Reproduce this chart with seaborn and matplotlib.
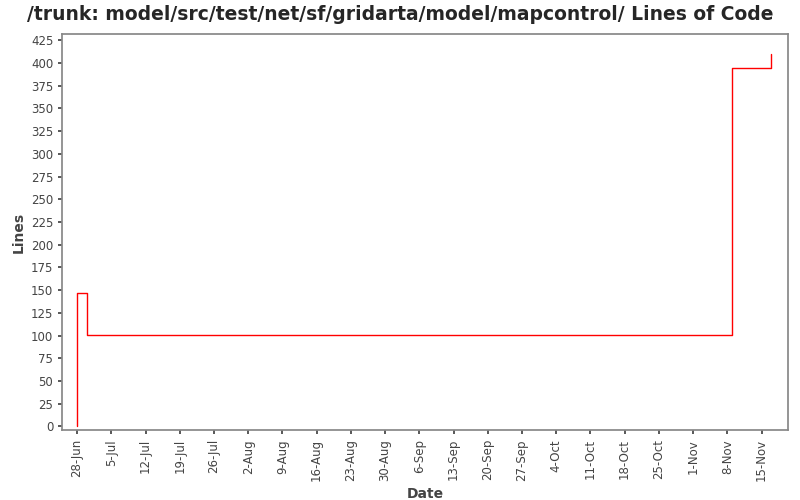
import matplotlib
matplotlib.use("Agg")
import matplotlib.pyplot as plt
import matplotlib.dates as mdates
import seaborn as sns
import pandas as pd

dates = pd.to_datetime(["2010-06-28", "2010-06-28", "2010-06-30", "2010-11-09",
                        "2010-11-17", "2010-11-17"])
lines = [0, 147, 101, 395, 395, 410]

sns.set_theme(style="white")
plt.rcParams['font.family'] = ['DejaVu Sans']

fig = plt.figure(figsize=(8, 5), dpi=100)
ax = fig.add_axes([0.078, 0.14, 0.907, 0.792])
df = pd.DataFrame({"date": dates, "lines": lines})
sns.lineplot(data=df, x="date", y="lines", ax=ax, color="red", linewidth=1,
             drawstyle="steps-post", estimator=None, sort=False)

ax.set_xlim(pd.Timestamp("2010-06-25"), pd.Timestamp("2010-11-20 10:00"))
ax.set_ylim(-4, 432)
ax.set_yticks(range(0, 426, 25))
ticks = pd.date_range("2010-06-28", "2010-11-15", freq="7D")
ax.set_xticks(ticks)
ax.set_xticklabels([f"{d.day}-{d.strftime('%b')}" for d in ticks], rotation=90)
ax.tick_params(labelsize=8.5, colors="#444444", length=3, left=True, bottom=True)
for s in ax.spines.values():
    s.set_color("#888888")
ax.set_xlabel("Date", fontsize=10, fontweight="bold", color="#444444")
ax.set_ylabel("Lines", fontsize=10, fontweight="bold", color="#444444")
fig.suptitle("/trunk: model/src/test/net/sf/gridarta/model/mapcontrol/ Lines of Code",
             fontsize=13.5, fontweight="bold", y=0.99)
fig.savefig("out.png", dpi=100)
